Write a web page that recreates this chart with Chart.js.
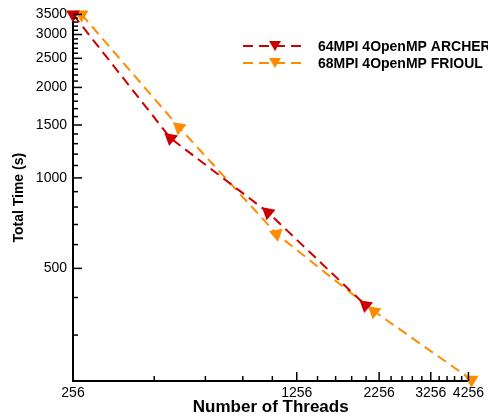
<!DOCTYPE html>
<html>
<head>
  <title>Total Time vs Threads</title>
  <script src="https://cdn.jsdelivr.net/npm/chart.js"></script>
  <style>
    body {
      margin: 0;
      background-color: #fff;
    }
    canvas {
      display: block;
    }
  </style>
</head>
<body>
  <canvas id="timeChart" width="488" height="418"></canvas>
  <script>
    // ARCHER: 64 MPI x 4 OpenMP
    var archerThreads = [256, 512, 1024, 2048];
    var archerTime = [3500, 1356, 768, 377];
    // FRIOUL: 68 MPI x 4 OpenMP
    var frioulThreads = [272, 544, 1088, 2176, 4352];
    var frioulTime = [3500, 1474, 651, 360, 213];

    var xMajorTicks = [256, 1256, 2256, 3256, 4256];
    var xMinorTicks = [456, 656, 856, 1056, 1456, 1656, 1856, 2056, 2456, 2656, 2856, 3056, 3456, 3656, 3856, 4056];
    var yMajorTicks = [500, 1000, 1500, 2000, 2500, 3000, 3500];
    var yMinorTicks = [300, 400, 600, 700, 800, 900, 1100, 1200, 1300, 1400, 1600, 1700, 1800, 1900,
                       2100, 2200, 2300, 2400, 2600, 2700, 2800, 2900, 3100, 3200, 3300, 3400];

    var seriesLabels = ['64MPI 4OpenMP ARCHER', '68MPI 4OpenMP FRIOUL'];
    var fontFamily = '"Liberation Sans", Arial, Helvetica, sans-serif';

    function toPoints(xs, ys) {
      return xs.map(function(x, i) { return {x: x, y: ys[i]}; });
    }

    function tickList(major, minor) {
      return major.concat(minor).sort(function(a, b) { return a - b; }).map(function(v) {
        return {value: v, major: major.indexOf(v) >= 0};
      });
    }

    // tecplot style ticks, pointing into the plot
    var inwardTicks = {
      id: 'inwardTicks',
      afterDraw: function(chart) {
        var ctx = chart.ctx;
        var area = chart.chartArea;
        var xs = chart.scales.x, ys = chart.scales.y;
        ctx.save();
        ctx.strokeStyle = '#000';
        ctx.lineWidth = 1.5;
        xs.ticks.forEach(function(t) {
          var px = xs.getPixelForValue(t.value);
          var len = t.major ? 9 : 5;
          ctx.beginPath();
          ctx.moveTo(px, area.bottom);
          ctx.lineTo(px, area.bottom - len);
          ctx.stroke();
        });
        ys.ticks.forEach(function(t) {
          var py = ys.getPixelForValue(t.value);
          var len = t.major ? 9 : 5;
          ctx.beginPath();
          ctx.moveTo(area.left, py);
          ctx.lineTo(area.left + len, py);
          ctx.stroke();
        });
        ctx.restore();
      }
    };

    // legend drawn by hand, top right, may run off the edge like the original
    var sideLegend = {
      id: 'sideLegend',
      afterDraw: function(chart) {
        var ctx = chart.ctx;
        ctx.save();
        chart.data.datasets.forEach(function(ds, i) {
          var y = 46 + i * 17;
          ctx.strokeStyle = ds.borderColor;
          ctx.lineWidth = 2;
          ctx.setLineDash([10, 6]);
          ctx.beginPath();
          ctx.moveTo(243, y);
          ctx.lineTo(306, y);
          ctx.stroke();
          ctx.setLineDash([]);
          ctx.fillStyle = ds.borderColor;
          ctx.beginPath();
          ctx.moveTo(269, y - 5);
          ctx.lineTo(281, y - 5);
          ctx.lineTo(275, y + 5);
          ctx.closePath();
          ctx.fill();
          ctx.fillStyle = '#000';
          ctx.font = 'bold 14px ' + fontFamily;
          ctx.textBaseline = 'middle';
          ctx.fillText(ds.label, 318, y + 1);
        });
        ctx.restore();
      }
    };

    var ctx = document.getElementById('timeChart').getContext('2d');
    var timeChart = new Chart(ctx, {
      type: 'line',
      data: {
        datasets: [{
          label: seriesLabels[0],
          data: toPoints(archerThreads, archerTime),
          borderColor: '#cc0000',
          backgroundColor: '#cc0000',
          borderWidth: 2,
          borderDash: [10, 6],
          pointStyle: 'triangle',
          pointRadius: 6,
          pointRotation: [180, -50, -50, -50],
          clip: false
        }, {
          label: seriesLabels[1],
          data: toPoints(frioulThreads, frioulTime),
          borderColor: '#ff8c00',
          backgroundColor: '#ff8c00',
          borderWidth: 2,
          borderDash: [10, 6],
          pointStyle: 'triangle',
          pointRadius: 6,
          pointRotation: [180, -50, 170, -50, 180],
          clip: false
        }]
      },
      options: {
        responsive: false,
        animation: false,
        layout: {
          padding: {left: 0, top: 12, right: 16, bottom: 0}
        },
        plugins: {
          legend: {display: false},
          tooltip: {enabled: false}
        },
        scales: {
          x: {
            type: 'logarithmic',
            min: 256,
            max: 4256,
            afterBuildTicks: function(scale) {
              scale.ticks = tickList(xMajorTicks, xMinorTicks);
            },
            afterFit: function(scale) {
              scale.height = 37;
            },
            grid: {display: false, drawTicks: false},
            border: {display: true, color: '#000', width: 2},
            ticks: {
              autoSkip: false,
              maxRotation: 0,
              padding: 4,
              color: '#000',
              font: {family: fontFamily, size: 14},
              callback: function(value) {
                return xMajorTicks.indexOf(value) >= 0 ? String(value) : '';
              }
            },
            title: {
              display: true,
              text: 'Number of Threads',
              color: '#000',
              font: {family: fontFamily, size: 17, weight: 'bold'},
              padding: {top: 1, bottom: 0}
            }
          },
          y: {
            type: 'logarithmic',
            min: 211,
            max: 3500,
            afterBuildTicks: function(scale) {
              scale.ticks = tickList(yMajorTicks, yMinorTicks);
            },
            afterFit: function(scale) {
              scale.width = 73;
            },
            grid: {display: false, drawTicks: false},
            border: {display: true, color: '#000', width: 2},
            ticks: {
              autoSkip: false,
              padding: 6,
              color: '#000',
              font: {family: fontFamily, size: 14},
              callback: function(value) {
                return yMajorTicks.indexOf(value) >= 0 ? String(value) : '';
              }
            },
            title: {
              display: true,
              text: 'Total Time (s)',
              color: '#000',
              font: {family: fontFamily, size: 14, weight: 'bold'},
              padding: {top: 11, bottom: 0}
            }
          }
        }
      },
      plugins: [inwardTicks, sideLegend]
    });
  </script>
</body>
</html>
